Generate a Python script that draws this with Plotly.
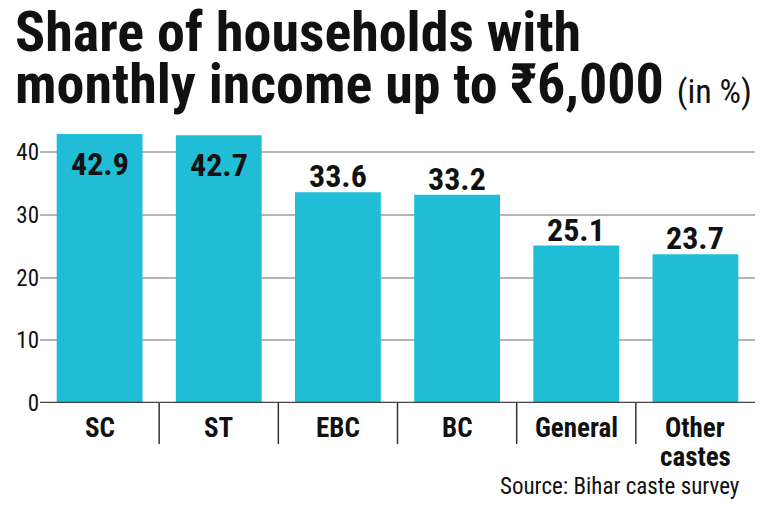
import plotly.graph_objects as go

categories = ["SC", "ST", "EBC", "BC", "General", "Other castes"]
category_lines = [["SC"], ["ST"], ["EBC"], ["BC"], ["General"], ["Other", "castes"]]
values = [42.9, 42.7, 33.6, 33.2, 25.1, 23.7]
label_inside = [True, True, False, False, False, False]
y_ticks = [0, 10, 20, 30, 40]

BAR = "#20bdd6"
INK = "#111111"
FONT = "Roboto Condensed, Liberation Sans Narrow, sans-serif"

W, H = 760, 507
ML, MR, MT, MB = 40, 5, 127, 104
PW = W - ML - MR
PH = H - MT - MB

def py(p):
    return (H - MB - p) / PH

def px(p):
    return (p - ML) / PW

fig = go.Figure()
fig.add_trace(go.Bar(x=list(range(len(categories))), y=values, marker_color=BAR,
                     marker_line_width=0, hoverinfo="skip"))

annotations = []
for i, (v, ins) in enumerate(zip(values, label_inside)):
    annotations.append(dict(x=i, y=v, xref="x", yref="y", text=f"<b>{v}</b>",
                            showarrow=False, yanchor="top" if ins else "bottom",
                            yshift=-9 if ins else -5,
                            font=dict(family=FONT, size=32, color=INK)))

for i, lines in enumerate(category_lines):
    for j, line in enumerate(lines):
        annotations.append(dict(x=i, y=py(428 + 29 * j), xref="x", yref="paper",
                                text=f"<b>{line}</b>", showarrow=False, yanchor="middle",
                                font=dict(family=FONT, size=27, color=INK)))

annotations.append(dict(x=px(13), y=py(32), xref="paper", yref="paper",
                        xanchor="left", yanchor="middle", showarrow=False,
                        text="<b>Share of households with</b>",
                        font=dict(family=FONT, size=56, color=INK)))
annotations.append(dict(x=px(13), y=py(84), xref="paper", yref="paper",
                        xanchor="left", yanchor="middle", showarrow=False,
                        text="<b>monthly income up to ₹6,000</b> <span style='font-size:34px'>(in %)</span>",
                        font=dict(family=FONT, size=56, color=INK)))
annotations.append(dict(x=px(742), y=py(486), xref="paper", yref="paper",
                        xanchor="right", yanchor="middle", showarrow=False,
                        text="Source: Bihar caste survey",
                        font=dict(family=FONT, size=23, color=INK)))

shapes = []
for i in range(len(categories) - 1):
    shapes.append(dict(type="line", xref="x", yref="paper", x0=i + 0.5, x1=i + 0.5,
                       y0=py(403), y1=py(444), line=dict(color="#333333", width=1.5)))
shapes.append(dict(type="line", xref="paper", yref="y", x0=0, x1=1, y0=0, y1=0,
                   line=dict(color="#444444", width=2.5)))

fig.update_layout(
    width=W, height=H, margin=dict(l=ML, r=MR, t=MT, b=MB),
    paper_bgcolor="white", plot_bgcolor="white",
    bargap=0.28, showlegend=False,
    xaxis=dict(range=[-0.5, len(categories) - 0.5], showgrid=False, zeroline=False,
               showline=False, ticks="", showticklabels=False),
    yaxis=dict(range=[0, 44], tickvals=y_ticks, showgrid=True, gridcolor="#b5b5b5",
               gridwidth=1.5, zeroline=False, showline=False, ticks="",
               tickfont=dict(family=FONT, size=23, color=INK)),
    annotations=annotations, shapes=shapes,
)
fig.write_html("out.html")
